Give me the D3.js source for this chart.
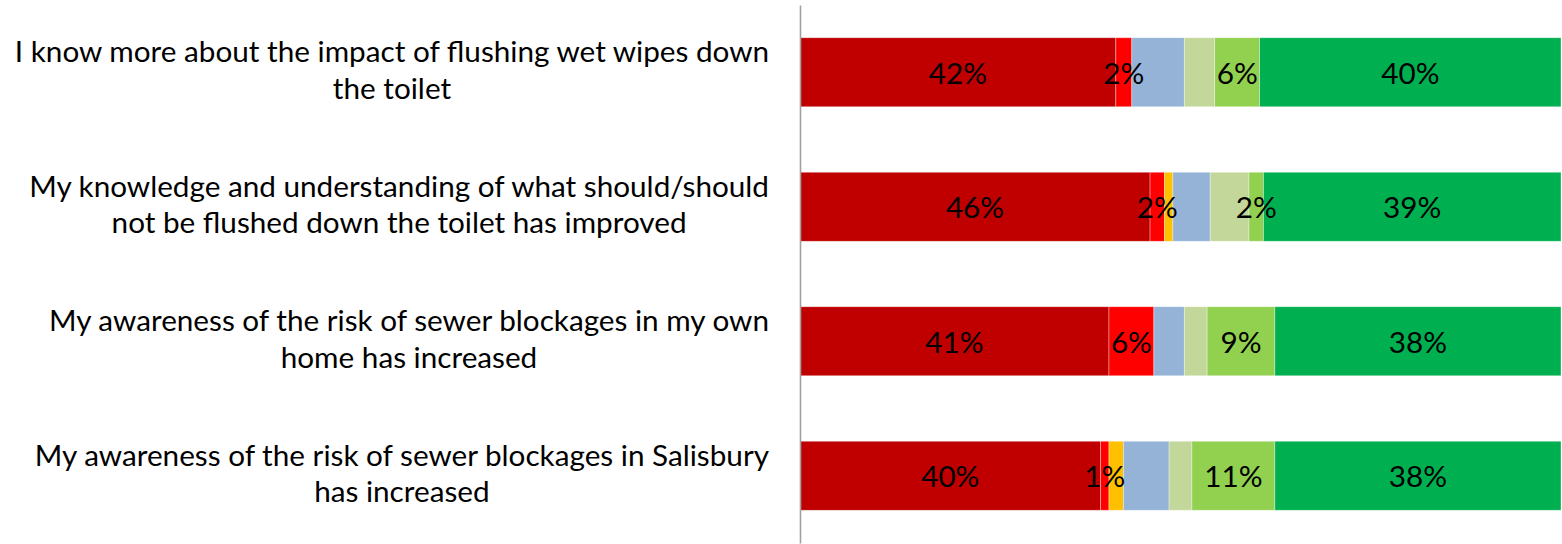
<!DOCTYPE html>
<html>
<head>
<meta charset="utf-8">
<script src="https://cdn.jsdelivr.net/npm/d3@7"></script>
<style>
  html, body { margin: 0; padding: 0; background: #fff; }
  svg { display: block; }
</style>
</head>
<body>
<svg id="chart" width="1562" height="544"></svg>
<script>
// ---- Data ----
const categories = [
  ["I know more about the impact of flushing wet wipes down", "the toilet"],
  ["My knowledge and understanding of what should/should", "not be flushed down the toilet has improved"],
  ["My awareness of the risk of sewer blockages in my own", "home has increased"],
  ["My awareness of the risk of sewer blockages in Salisbury", "has increased"]
];
const seriesNames = ["Series 1", "Series 2", "Series 3", "Series 4", "Series 5", "Series 6", "Series 7"];
const series1 = [41.5, 46.0, 40.6, 39.5];
const series2 = [2.1, 1.9, 5.9, 1.1];
const series3 = [0.0, 1.1, 0.0, 1.9];
const series4 = [6.9, 4.9, 4.0, 6.0];
const series5 = [4.0, 5.1, 3.0, 3.0];
const series6 = [5.9, 1.9, 8.9, 10.9];
const series7 = [39.6, 39.1, 37.6, 37.6];
const labelledSeries = ["Series 1", "Series 2", "Series 6", "Series 7"];
const colors = ["#C00000", "#FF0000", "#FFC000", "#95B3D7", "#C4D79B", "#92D050", "#00B050"];

// ---- Build table ----
const allSeries = [series1, series2, series3, series4, series5, series6, series7];
const catKeys = categories.map(c => c.join(" "));
const table = catKeys.map((k, i) => {
  const row = { cat: k };
  seriesNames.forEach((s, j) => row[s] = allSeries[j][i]);
  return row;
});

const svg = d3.select("#chart");
const FONT = "Lato, 'Open Sans', sans-serif";

const x = d3.scaleLinear().domain([0, 100]).range([800, 1561]);
const y = d3.scaleBand().domain(catKeys).range([5, 543])
  .paddingInner(0.487).paddingOuter(0.2435);

const stacked = d3.stack().keys(seriesNames)(table);
const color = d3.scaleOrdinal().domain(seriesNames).range(colors);

// fit font size so the longest label line is ~755px
const probe = svg.append("text").attr("font-family", FONT).attr("font-size", 100)
  .text(categories[0][0]);
const probeW = probe.node().getComputedTextLength();
probe.remove();
const fs = Math.round(100 * 755 / probeW * 10) / 10;

const layers = svg.append("g").selectAll("g").data(stacked).join("g")
  .attr("fill", d => color(d.key));

layers.selectAll("rect").data(d => d.map(v => ({ v, key: d.key })))
  .join("rect")
  .attr("x", d => x(d.v[0]))
  .attr("y", d => y(d.v.data.cat))
  .attr("width", d => Math.max(0, x(d.v[1]) - x(d.v[0])))
  .attr("height", y.bandwidth())
  .attr("stroke", "#fff")
  .attr("stroke-opacity", 0.45)
  .attr("stroke-width", 0.75);

// data labels
const labelG = svg.append("g").attr("font-family", FONT).attr("font-size", fs)
  .attr("fill", "#000").attr("text-anchor", "middle");
stacked.filter(s => labelledSeries.includes(s.key)).forEach(s => {
  s.forEach(v => {
    const val = v[1] - v[0];
    if (val <= 0) return;
    labelG.append("text")
      .attr("x", (x(v[0]) + x(v[1])) / 2)
      .attr("y", y(v.data.cat) + y.bandwidth() / 2 + fs * 0.39)
      .text(Math.round(val) + "%");
  });
});

// category axis line
const axis = d3.axisLeft(y).tickSize(0).tickSizeOuter(0).tickFormat("");
const axG = svg.append("g").attr("transform", "translate(800,0)").call(axis);
axG.select(".domain").attr("stroke", "#A0A0A0").attr("stroke-width", 1.6);

// category labels (wrapped, centered block right-aligned at axis)
const catG = svg.append("g").attr("font-family", FONT).attr("font-size", fs).attr("fill", "#000");
categories.forEach((lines, i) => {
  const cy = y(catKeys[i]) + y.bandwidth() / 2;
  const t = catG.append("text").attr("text-anchor", "middle");
  const spans = lines.map((ln, j) => t.append("tspan").text(ln));
  const maxW = d3.max(spans, s => s.node().getComputedTextLength());
  const cx = 769 - maxW / 2;
  spans.forEach((s, j) => s.attr("x", cx).attr("y", cy - 10 + j * 36.5));
});
</script>
</body>
</html>
